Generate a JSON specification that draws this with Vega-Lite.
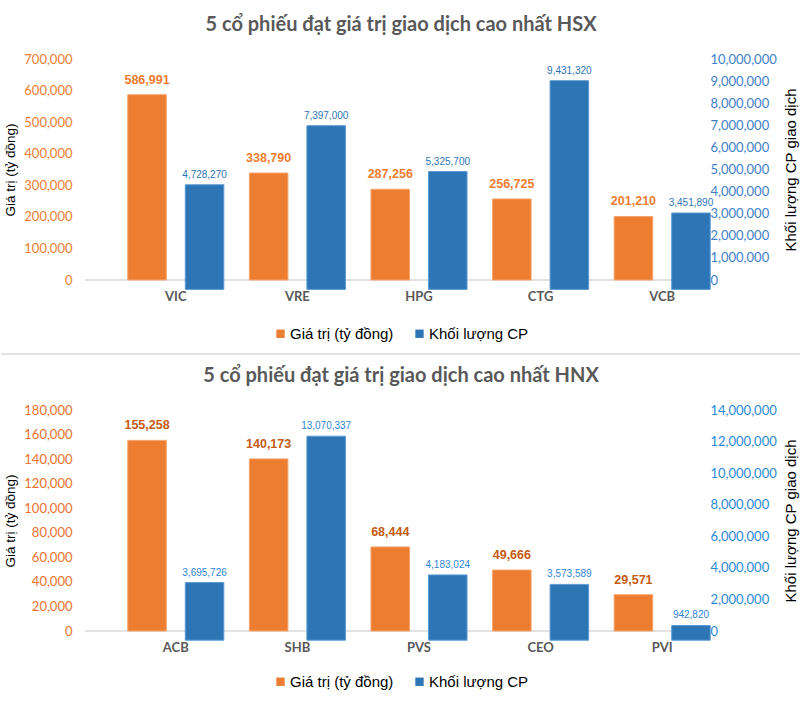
{
  "$schema": "https://vega.github.io/schema/vega-lite/v6.json",
  "background": "white",
  "padding": {"left": 0, "top": 15, "right": 0, "bottom": 0},
  "config": {
    "view": {"stroke": null},
    "font": "Lato",
    "title": {"font": "Lato", "fontSize": 20, "fontWeight": "bold", "color": "#595959", "anchor": "middle", "frame": "bounds", "offset": 18},
    "axis": {"grid": false, "domain": false, "ticks": false, "tickSize": 0}
  },
  "data": {"values": [
    {"san": "HSX", "ma": "VIC", "series": "Giá trị (tỷ đồng)", "v": 586991},
    {"san": "HSX", "ma": "VIC", "series": "Khối lượng CP", "v": 4728270},
    {"san": "HSX", "ma": "VRE", "series": "Giá trị (tỷ đồng)", "v": 338790},
    {"san": "HSX", "ma": "VRE", "series": "Khối lượng CP", "v": 7397000},
    {"san": "HSX", "ma": "HPG", "series": "Giá trị (tỷ đồng)", "v": 287256},
    {"san": "HSX", "ma": "HPG", "series": "Khối lượng CP", "v": 5325700},
    {"san": "HSX", "ma": "CTG", "series": "Giá trị (tỷ đồng)", "v": 256725},
    {"san": "HSX", "ma": "CTG", "series": "Khối lượng CP", "v": 9431320},
    {"san": "HSX", "ma": "VCB", "series": "Giá trị (tỷ đồng)", "v": 201210},
    {"san": "HSX", "ma": "VCB", "series": "Khối lượng CP", "v": 3451890},
    {"san": "HNX", "ma": "ACB", "series": "Giá trị (tỷ đồng)", "v": 155258},
    {"san": "HNX", "ma": "ACB", "series": "Khối lượng CP", "v": 3695726},
    {"san": "HNX", "ma": "SHB", "series": "Giá trị (tỷ đồng)", "v": 140173},
    {"san": "HNX", "ma": "SHB", "series": "Khối lượng CP", "v": 13070337},
    {"san": "HNX", "ma": "PVS", "series": "Giá trị (tỷ đồng)", "v": 68444},
    {"san": "HNX", "ma": "PVS", "series": "Khối lượng CP", "v": 4183024},
    {"san": "HNX", "ma": "CEO", "series": "Giá trị (tỷ đồng)", "v": 49666},
    {"san": "HNX", "ma": "CEO", "series": "Khối lượng CP", "v": 3573589},
    {"san": "HNX", "ma": "PVI", "series": "Giá trị (tỷ đồng)", "v": 29571},
    {"san": "HNX", "ma": "PVI", "series": "Khối lượng CP", "v": 942820}
  ]},
  "spacing": 11,
  "resolve": {"legend": {"color": "independent"}},
  "vconcat": [
    {
      "width": 612, "height": 221,
      "title": {"text": "5 cổ phiếu đạt giá trị giao dịch cao nhất HSX"},
      "transform": [{"filter": "datum.san === 'HSX'"}],
      "resolve": {"scale": {"y": "independent"}, "axis": {"y": "independent"}},
      "layer": [
        {
          "data": {"values": [{}]},
          "mark": {"type": "rule", "color": "#D9D9D9", "strokeWidth": 1.5},
          "encoding": {"y": {"datum": 0, "type": "quantitative", "scale": {"domain": [0, 700000]}, "axis": null}}
        },
        {
          "transform": [{"filter": "datum.series === 'Giá trị (tỷ đồng)'"}],
          "mark": {"type": "bar", "stroke": "#F6A46C", "strokeWidth": 1},
          "encoding": {
            "x": {"field": "ma", "type": "nominal", "sort": ["VIC", "VRE", "HPG", "CTG", "VCB"], "scale": {"range": [30, 638], "paddingInner": 0.21, "paddingOuter": 0.105}, "axis": {"title": null, "labelAngle": 0, "labelFont": "Lato", "labelFontWeight": "bold", "labelFontSize": 13, "labelColor": "#595959", "labelPadding": 10}},
            "xOffset": {"field": "series", "type": "nominal", "scale": {"domain": ["Giá trị (tỷ đồng)", "Khối lượng CP"], "paddingInner": 0.33}},
            "y": {"field": "v", "type": "quantitative", "scale": {"domain": [0, 700000], "nice": false}, "axis": {"orient": "left", "values": [0, 100000, 200000, 300000, 400000, 500000, 600000, 700000], "format": ",.0f", "labelFont": "Lato", "labelFontSize": 13, "labelColor": "#ED7D31", "labelPadding": 13, "title": "Giá trị (tỷ đồng)", "titleFont": "Liberation Sans", "titleFontSize": 13.5, "titleFontWeight": "normal", "titleColor": "#000000", "titlePadding": 6}},
            "color": {"field": "series", "type": "nominal", "scale": {"domain": ["Giá trị (tỷ đồng)", "Khối lượng CP"], "range": ["#ED7D31", "#2E75B6"]}, "legend": {"orient": "none", "legendX": 188, "legendY": 267, "title": null, "direction": "horizontal", "symbolType": "square", "symbolSize": 70, "symbolStrokeWidth": 0, "labelFont": "Liberation Sans", "labelFontSize": 15, "labelColor": "#000000", "columnPadding": 18, "labelOffset": 2}}
          }
        },
        {
          "transform": [{"filter": "datum.series === 'Giá trị (tỷ đồng)'"}],
          "mark": {"type": "text", "font": "Liberation Sans", "fontWeight": "bold", "fontSize": 12.5, "color": "#ED7D31", "baseline": "middle", "dy": -15},
          "encoding": {
            "x": {"field": "ma", "type": "nominal", "sort": ["VIC", "VRE", "HPG", "CTG", "VCB"]},
            "xOffset": {"field": "series", "type": "nominal"},
            "y": {"field": "v", "type": "quantitative", "scale": {"domain": [0, 700000], "nice": false}, "axis": null},
            "text": {"field": "v", "type": "quantitative", "format": ","}
          }
        },
        {
          "transform": [{"filter": "datum.series === 'Khối lượng CP'"}],
          "mark": {"type": "bar", "stroke": "#5B9BD5", "strokeWidth": 1},
          "encoding": {
            "x": {"field": "ma", "type": "nominal", "sort": ["VIC", "VRE", "HPG", "CTG", "VCB"]},
            "xOffset": {"field": "series", "type": "nominal"},
            "y": {"field": "v", "type": "quantitative", "scale": {"domain": [425000, 10410000], "zero": false, "nice": false}, "axis": null},
            "color": {"field": "series", "type": "nominal"}
          }
        },
        {
          "transform": [{"filter": "datum.series === 'Khối lượng CP'"}],
          "mark": {"type": "text", "font": "Liberation Sans", "fontSize": 10, "color": "#2E75B6", "baseline": "middle", "dy": -10},
          "encoding": {
            "x": {"field": "ma", "type": "nominal", "sort": ["VIC", "VRE", "HPG", "CTG", "VCB"]},
            "xOffset": {"field": "series", "type": "nominal"},
            "y": {"field": "v", "type": "quantitative", "scale": {"domain": [425000, 10410000], "zero": false, "nice": false}, "axis": null},
            "text": {"field": "v", "type": "quantitative", "format": ","}
          }
        },
        {
          "transform": [{"filter": "datum.series === 'Khối lượng CP'"}],
          "mark": {"type": "point", "opacity": 0},
          "encoding": {
            "x": {"field": "ma", "type": "nominal", "sort": ["VIC", "VRE", "HPG", "CTG", "VCB"]},
            "y": {"field": "v", "type": "quantitative", "scale": {"domain": [0, 10000000], "nice": false}, "axis": {"orient": "right", "values": [0, 1000000, 2000000, 3000000, 4000000, 5000000, 6000000, 7000000, 8000000, 9000000, 10000000], "format": ",.0f", "labelFont": "Lato", "labelFontSize": 13, "labelColor": "#3F80C8", "labelPadding": 13, "title": "Khối lượng CP giao dịch", "titleFont": "Liberation Sans", "titleFontSize": 15, "titleFontWeight": "normal", "titleColor": "#000000", "titleAngle": 270, "titleBaseline": "top", "titlePadding": 7}}
          }
        }
      ]
    },
    {
      "width": 612, "height": 1,
      "data": {"values": [{}]},
      "mark": {"type": "rule", "color": "#E3E3E3", "strokeWidth": 2},
      "encoding": {
        "x": {"datum": 0, "type": "quantitative", "scale": {"domain": [0, 1], "range": [-84, 716]}, "axis": null},
        "x2": {"datum": 1},
        "y": {"datum": 0, "type": "quantitative", "scale": {"domain": [0, 1]}, "axis": null}
      }
    },
    {
      "width": 612, "height": 221,
      "title": {"text": "5 cổ phiếu đạt giá trị giao dịch cao nhất HNX"},
      "transform": [{"filter": "datum.san === 'HNX'"}],
      "resolve": {"scale": {"y": "independent"}, "axis": {"y": "independent"}},
      "layer": [
        {
          "data": {"values": [{}]},
          "mark": {"type": "rule", "color": "#D9D9D9", "strokeWidth": 1.5},
          "encoding": {"y": {"datum": 0, "type": "quantitative", "scale": {"domain": [0, 180000]}, "axis": null}}
        },
        {
          "transform": [{"filter": "datum.series === 'Giá trị (tỷ đồng)'"}],
          "mark": {"type": "bar", "stroke": "#F6A46C", "strokeWidth": 1},
          "encoding": {
            "x": {"field": "ma", "type": "nominal", "sort": ["ACB", "SHB", "PVS", "CEO", "PVI"], "scale": {"range": [30, 638], "paddingInner": 0.21, "paddingOuter": 0.105}, "axis": {"title": null, "labelAngle": 0, "labelFont": "Lato", "labelFontWeight": "bold", "labelFontSize": 13, "labelColor": "#595959", "labelPadding": 10}},
            "xOffset": {"field": "series", "type": "nominal", "scale": {"domain": ["Giá trị (tỷ đồng)", "Khối lượng CP"], "paddingInner": 0.33}},
            "y": {"field": "v", "type": "quantitative", "scale": {"domain": [0, 180000], "nice": false}, "axis": {"orient": "left", "values": [0, 20000, 40000, 60000, 80000, 100000, 120000, 140000, 160000, 180000], "format": ",.0f", "labelFont": "Lato", "labelFontSize": 13, "labelColor": "#E9722E", "labelPadding": 13, "title": "Giá trị (tỷ đồng)", "titleFont": "Liberation Sans", "titleFontSize": 13.5, "titleFontWeight": "normal", "titleColor": "#000000", "titlePadding": 6}},
            "color": {"field": "series", "type": "nominal", "scale": {"domain": ["Giá trị (tỷ đồng)", "Khối lượng CP"], "range": ["#ED7D31", "#2E75B6"]}, "legend": {"orient": "none", "legendX": 188, "legendY": 264, "title": null, "direction": "horizontal", "symbolType": "square", "symbolSize": 70, "symbolStrokeWidth": 0, "labelFont": "Liberation Sans", "labelFontSize": 15, "labelColor": "#000000", "columnPadding": 18, "labelOffset": 2}}
          }
        },
        {
          "transform": [{"filter": "datum.series === 'Giá trị (tỷ đồng)'"}],
          "mark": {"type": "text", "font": "Liberation Sans", "fontWeight": "bold", "fontSize": 12.5, "color": "#C55A11", "baseline": "middle", "dy": -15},
          "encoding": {
            "x": {"field": "ma", "type": "nominal", "sort": ["ACB", "SHB", "PVS", "CEO", "PVI"]},
            "xOffset": {"field": "series", "type": "nominal"},
            "y": {"field": "v", "type": "quantitative", "scale": {"domain": [0, 180000], "nice": false}, "axis": null},
            "text": {"field": "v", "type": "quantitative", "format": ","}
          }
        },
        {
          "transform": [{"filter": "datum.series === 'Khối lượng CP'"}],
          "mark": {"type": "bar", "stroke": "#5B9BD5", "strokeWidth": 1},
          "encoding": {
            "x": {"field": "ma", "type": "nominal", "sort": ["ACB", "SHB", "PVS", "CEO", "PVI"]},
            "xOffset": {"field": "series", "type": "nominal"},
            "y": {"field": "v", "type": "quantitative", "scale": {"domain": [589000, 14750000], "zero": false, "nice": false}, "axis": null},
            "color": {"field": "series", "type": "nominal"}
          }
        },
        {
          "transform": [{"filter": "datum.series === 'Khối lượng CP'"}],
          "mark": {"type": "text", "font": "Liberation Sans", "fontSize": 10, "color": "#2F86D6", "baseline": "middle", "dy": -10},
          "encoding": {
            "x": {"field": "ma", "type": "nominal", "sort": ["ACB", "SHB", "PVS", "CEO", "PVI"]},
            "xOffset": {"field": "series", "type": "nominal"},
            "y": {"field": "v", "type": "quantitative", "scale": {"domain": [589000, 14750000], "zero": false, "nice": false}, "axis": null},
            "text": {"field": "v", "type": "quantitative", "format": ","}
          }
        },
        {
          "transform": [{"filter": "datum.series === 'Khối lượng CP'"}],
          "mark": {"type": "point", "opacity": 0},
          "encoding": {
            "x": {"field": "ma", "type": "nominal", "sort": ["ACB", "SHB", "PVS", "CEO", "PVI"]},
            "y": {"field": "v", "type": "quantitative", "scale": {"domain": [0, 14000000], "nice": false}, "axis": {"orient": "right", "values": [0, 2000000, 4000000, 6000000, 8000000, 10000000, 12000000, 14000000], "format": ",.0f", "labelFont": "Lato", "labelFontSize": 13, "labelColor": "#2B8AD8", "labelPadding": 13, "title": "Khối lượng CP giao dịch", "titleFont": "Liberation Sans", "titleFontSize": 15, "titleFontWeight": "normal", "titleColor": "#000000", "titleAngle": 270, "titleBaseline": "top", "titlePadding": 7}}
          }
        }
      ]
    }
  ]
}
